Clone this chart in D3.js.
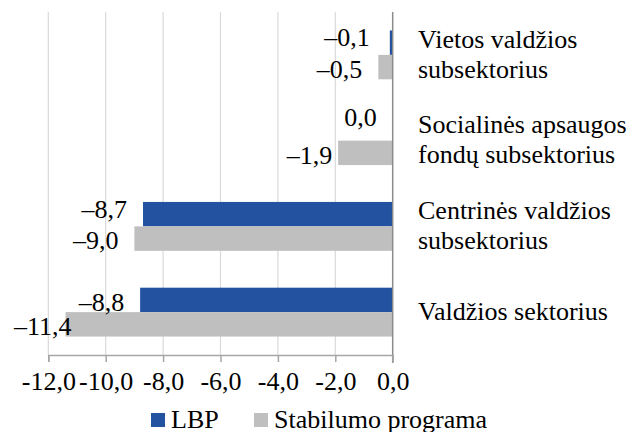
<!DOCTYPE html>
<html>
<head>
<meta charset="utf-8">
<script src="https://cdn.jsdelivr.net/npm/d3@7/dist/d3.min.js"></script>
<style>
  body { margin: 0; background: #fff; }
</style>
</head>
<body>
<svg width="633" height="432"></svg>
<script>
// chart data
var categories = [
    ["Vietos valdžios", "subsektorius"],
    ["Socialinės apsaugos", "fondų subsektorius"],
    ["Centrinės valdžios", "subsektorius"],
    ["Valdžios sektorius"]
];
var seriesNames = ["LBP", "Stabilumo programa"];
var lbpValues = [-0.1, 0.0, -8.7, -8.8];
var stabValues = [-0.5, -1.9, -9.0, -11.4];
var tickValues = [-12, -10, -8, -6, -4, -2, 0];

var colors = ["#2352a0", "#bfbfbf"];
var font = "Liberation Serif, Tinos, Times New Roman, DejaVu Serif, serif";

var svg = d3.select("svg"),
        fs = 26,
        plotLeft = 48.3, plotRight = 392.7, plotTop = 12, plotBottom = 355;

var x = d3.scaleLinear().domain([-12, 0]).range([plotLeft, plotRight]);
var y0 = d3.scaleBand().domain(d3.range(categories.length))
        .range([plotTop, plotBottom]).paddingInner(0.43).paddingOuter(0.215);
var y1 = d3.scaleBand().domain([0, 1]).range([0, y0.bandwidth()]);

var fmt = function (v) {
    var s = Math.abs(v).toFixed(1).replace(".", ",");
    return (v < 0 ? "\u2013" : "") + s;
};

// gridlines
svg.append("g")
        .selectAll("line")
        .data(tickValues.filter(function (d) { return d !== 0; }))
        .enter().append("line")
        .attr("x1", function (d) { return x(d); })
        .attr("x2", function (d) { return x(d); })
        .attr("y1", plotTop)
        .attr("y2", plotBottom)
        .attr("stroke", "#d9d9d9")
        .attr("stroke-width", 1.2);

// bars
var rows = categories.map(function (c, i) {
    return [lbpValues[i], stabValues[i]];
});

var group = svg.append("g")
        .selectAll("g")
        .data(rows)
        .enter().append("g")
        .attr("transform", function (d, i) { return "translate(0," + y0(i) + ")"; });

group.selectAll("rect")
        .data(function (d) { return d; })
        .enter().append("rect")
        .attr("x", function (d) { return x(d); })
        .attr("y", function (d, j) { return y1(j); })
        .attr("width", function (d) { return x(0) - x(d); })
        .attr("height", y1.bandwidth())
        .attr("fill", function (d, j) { return colors[j]; });

// label nudges (excel placed a few by hand)
var nudgeX = {"0-0": -4, "1-1": 10, "3-1": 22};
var nudgeY = {"0-0": -7, "1-0": -13, "2-0": -7};

group.each(function (d, i) {
    d3.select(this).selectAll("text.val")
            .data(d)
            .enter().append("text")
            .attr("class", "val")
            .attr("text-anchor", "end")
            .attr("x", function (v, j) {
                return x(v) - 16 + (nudgeX[i + "-" + j] || 0);
            })
            .attr("y", function (v, j) {
                return y1(j) + y1.bandwidth() / 2 + (nudgeY[i + "-" + j] || 0) + 2;
            })
            .attr("dy", "0.34em")
            .attr("font-family", font)
            .attr("font-size", fs)
            .text(fmt);
});

// vertical zero axis
svg.append("line")
        .attr("x1", x(0)).attr("x2", x(0))
        .attr("y1", plotTop).attr("y2", plotBottom + 8)
        .attr("stroke", "#8c8c8c")
        .attr("stroke-width", 1.5);

// bottom axis
var axis = svg.append("g")
        .attr("transform", "translate(0," + plotBottom + ")")
        .call(d3.axisBottom(x).tickValues(tickValues).tickSize(7).tickPadding(10)
                .tickFormat(function (d) { return d.toFixed(1).replace(".", ","); }))
        .attr("font-family", font)
        .attr("font-size", fs);
axis.select(".domain").attr("stroke", "#a6a6a6").attr("stroke-width", 1.5);
axis.selectAll(".tick line").attr("stroke", "#a6a6a6").attr("stroke-width", 1.5);
axis.selectAll(".tick text").attr("fill", "#000");

// category labels
svg.append("g")
        .selectAll("text")
        .data(categories)
        .enter().append("text")
        .attr("x", 418)
        .attr("y", function (d, i) { return y0(i) + y0.bandwidth() / 2; })
        .attr("font-family", font)
        .attr("font-size", fs)
        .each(function (d) {
            var t = d3.select(this), n = d.length;
            d.forEach(function (line, k) {
                t.append("tspan")
                        .attr("x", 418)
                        .attr("dy", k === 0 ? ((-(n - 1) * 15) / fs + 0.3) + "em" : (30 / fs) + "em")
                        .text(line);
            });
        });

// legend
var legend = svg.append("g")
        .selectAll("g")
        .data(seriesNames)
        .enter().append("g")
        .attr("transform", function (d, i) { return "translate(" + [151, 254][i] + ",413)"; });
legend.append("rect")
        .attr("width", 14).attr("height", 14)
        .attr("fill", function (d, i) { return colors[i]; });
legend.append("text")
        .attr("x", 20)
        .attr("y", 7)
        .attr("dy", "0.32em")
        .attr("font-family", font)
        .attr("font-size", fs)
        .text(function (d) { return d; });
</script>
</body>
</html>
